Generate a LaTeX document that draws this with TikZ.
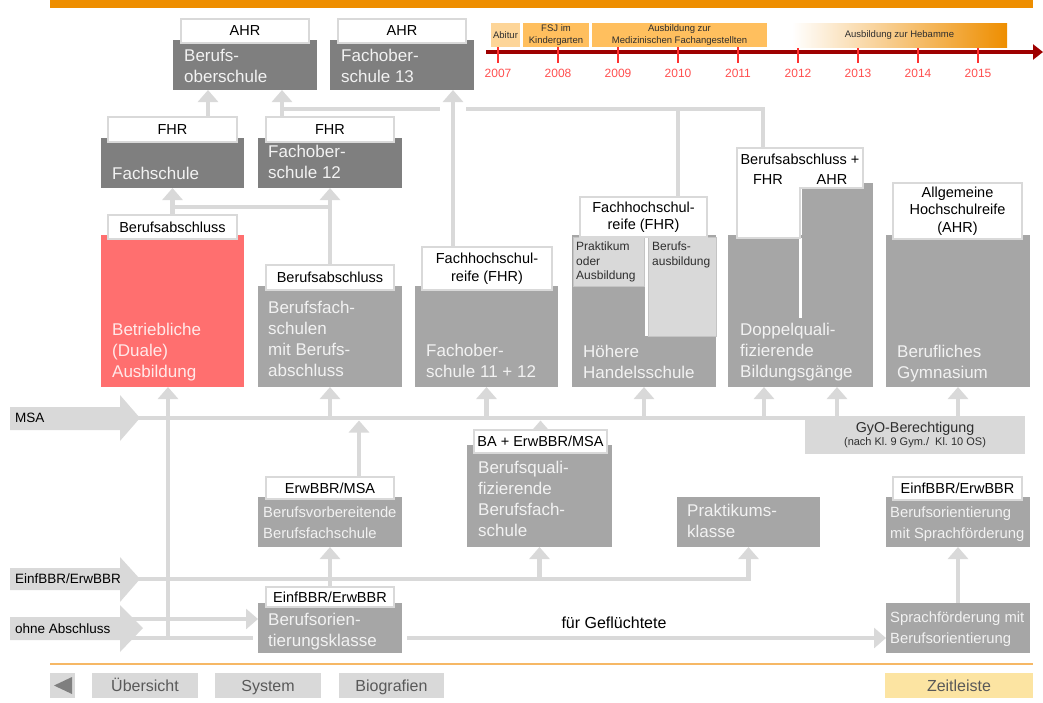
\documentclass[tikz,border=0pt]{standalone}
\usepackage{fontspec}
\setmainfont{Liberation Sans}
\usetikzlibrary{arrows.meta,calc,backgrounds}

\definecolor{arancio}{HTML}{EE8E00}
\definecolor{arancioch}{HTML}{FFBF5E}
\definecolor{aranciopal}{HTML}{FDD598}
\definecolor{lineaor}{HTML}{F6B865}
\definecolor{grigioscuro}{HTML}{7F7F7F}
\definecolor{grigiomedio}{HTML}{A6A6A6}
\definecolor{grigiochiaro}{HTML}{D9D9D9}
\definecolor{grigiobordo}{HTML}{C4C4C4}
\definecolor{testochiaro}{HTML}{F2F2F2}
\definecolor{testoscuro}{HTML}{2E2E2E}
\definecolor{testobottone}{HTML}{595959}
\definecolor{rosso}{HTML}{FF6F6F}
\definecolor{rossoasse}{HTML}{9E0000}
\definecolor{rossotacca}{HTML}{FF3030}
\definecolor{rossoanno}{HTML}{FF4F4F}
\definecolor{giallino}{HTML}{FCE4A2}

\begin{document}
\begin{tikzpicture}[
    x=1pt, y=-1pt,   % coordinate in pixel, y verso il basso
    scatola/.style={anchor=north west, inner sep=0pt, outer sep=0pt},
    dim/.style n args={2}{minimum width=#1pt, minimum height=#2pt},
    scuro/.style={scatola, fill=grigioscuro},
    medio/.style={scatola, fill=grigiomedio},
    chiaro/.style={scatola, fill=grigiochiaro, draw=grigiobordo, line width=0.8pt},
    bordo/.style={fill=white, draw=grigiochiaro, line width=2pt},
    etichetta/.style={scatola, bordo, align=center, text=black, font=\fontsize{14.5}{17.5}\selectfont},
    testo/.style={anchor=north west, inner sep=0pt, align=left, text=testochiaro, font=\fontsize{17}{21}\selectfont},
    testopiccolo/.style={testo, font=\fontsize{14.8}{21}\selectfont},
    linea/.style={draw=grigiochiaro, line width=4.5pt},
    freccia/.style={linea, -{Triangle[width=20pt,length=12pt]}},
    ponte/.style={preaction={draw=white, line width=26pt, -}},
    bottone/.style={scatola, fill=grigiochiaro, text=testobottone, text height=13.5pt, text depth=1.5pt,
                    font=\fontsize{16}{19}\selectfont},
    periodo/.style={scatola, fill=arancioch, text=testoscuro, align=center, font=\fontsize{9.5}{11.5}\selectfont},
    freccione/.style={fill=grigiochiaro},
    testofreccione/.style={anchor=west, inner sep=0pt, text=black, font=\fontsize{13.5}{16}\selectfont}
]
    \useasboundingbox (0,0) rectangle (1043,702);

    % =========================================================================
    % 1. BARRA SUPERIORE E LINEA DEL TEMPO
    % =========================================================================
    \fill[arancio] (50,0) rectangle (1033,8);

    % Asse del tempo
    \draw[rossoasse, line width=3.5pt, -{Triangle[width=15pt,length=10pt]}] (486,52) -- (1043,52);
    \foreach \anno [count=\i from 0] in {2007,...,2015} {
        \draw[rossotacca, line width=2pt] (498+60*\i,47) -- (498+60*\i,63);
        \node[text=rossoanno, font=\fontsize{12}{14}\selectfont] (anno\anno) at (498+60*\i,73) {\anno};
    }

    % Periodi della biografia
    \node[periodo, fill=aranciopal, dim={29}{24}] (abitur) at (491,23) {Abitur};
    \node[periodo, dim={66}{24}] (fsj) at (523,23) {FSJ im\\Kindergarten};
    \node[periodo, dim={175}{24}] (mfa) at (592,23) {Ausbildung zur\\Medizinischen Fachangestellten};
    \node[periodo, left color=white, right color=arancio, dim={215}{24}] (hebamme) at (792,23) {Ausbildung zur Hebamme};

    % =========================================================================
    % 2. SCATOLE DEI PERCORSI
    % =========================================================================

    % Riga 1 (AHR)
    \node[scuro, dim={144}{50}] (bos) at (173,40) {};
    \node[scuro, dim={144}{50}] (fos13) at (330,40) {};

    % Riga 2 (FHR)
    \node[scuro, dim={143}{50}] (fs) at (101,138) {};
    \node[scuro, dim={144}{50}] (fos12) at (258,138) {};

    % Riga 3
    \node[scatola, fill=rosso, dim={143}{152}] (dual) at (101,235) {};
    \node[medio, dim={144}{101}] (bfs) at (258,286) {};
    \node[medio, dim={143}{101}] (fos1112) at (415,286) {};
    \node[medio, dim={144}{152}] (hhs) at (572,235) {};
    \node[chiaro, dim={71}{49}] (hhs-p) at (573,237) {};
    \node[chiaro, dim={68}{99}] (hhs-b) at (648,237) {};
    \draw[white, line width=3pt] ($(hhs-b.north west)+(-2,0)$) -- ($(hhs-b.south west)+(-2,0)$);
    \node[medio, dim={145}{152}] (dq) at (728,235) {};
    \node[medio, dim={71}{135}] (dq-a) at (802,183) {};
    \draw[white, line width=3pt] ($(dq-a.south west)+(-1.5,0)$) -- ++(0,-80);
    \node[medio, dim={144}{152}] (bg) at (886,235) {};

    % Berechtigung per il ginnasio
    \node[scatola, fill=grigiochiaro, dim={220}{38}, align=center, text=testoscuro,
          font=\fontsize{14.3}{13}\selectfont] (gyo) at (805,416)
          {GyO-Berechtigung\\{\fontsize{11}{13}\selectfont(nach Kl.~9 Gym./~ Kl.~10 OS)}};

    % Riga 4
    \node[medio, dim={144}{50}] (bvb) at (258,497) {};
    \node[medio, dim={145}{102}] (bq) at (467,445) {};
    \node[medio, dim={143}{50}] (pk) at (677,497) {};
    \node[medio, dim={144}{50}] (bmsp) at (886,497) {};

    % Riga 5
    \node[medio, dim={144}{50}] (bok) at (258,603) {};
    \node[medio, dim={144}{50}] (spr) at (886,603) {};

    % Etichette dei titoli
    \node[etichetta, dim={128}{24}] (bosl) at (181,19) {AHR};
    \node[etichetta, dim={128}{24}] (fos13l) at (338,19) {AHR};
    \node[etichetta, dim={129}{25}] (fsl) at (108,117) {FHR};
    \node[etichetta, dim={128}{25}] (fos12l) at (266,117) {FHR};
    \node[etichetta, dim={129}{24}] (duall) at (108,215) {Berufsabschluss};
    \node[etichetta, dim={128}{25}] (bfsl) at (266,265) {Berufsabschluss};
    \node[etichetta, dim={130}{43}] (fos1112l) at (422,247) {Fachhochschul-\\reife (FHR)};
    \node[etichetta, dim={127}{40}] (hhsl) at (580,197) {Fachhochschul-\\reife (FHR)};
    \node[etichetta, dim={129}{56}] (bgl) at (893,183) {Allgemeine\\Hochschulreife\\(AHR)};
    \node[etichetta, dim={128}{22}] (bvbl) at (266,477) {ErwBBR/MSA};
    \node[etichetta, dim={133}{23}] (bql) at (474,430) {BA + ErwBBR/MSA};
    \node[etichetta, dim={129}{23}] (bmspl) at (893,477) {EinfBBR/ErwBBR};
    \node[etichetta, dim={128}{20}] (bokl) at (266,587) {EinfBBR/ErwBBR};

    % Etichetta a L dei Bildungsgaenge doppelqualificanti
    \coordinate (dql-nw) at (737,148);
    \draw[bordo] (dql-nw) -- ++(126,0) -- ++(0,40) -- ++(-63,0) -- ++(0,50) -- ++(-63,0) -- cycle;
    \node[anchor=base, font=\fontsize{14.5}{17.5}\selectfont] (dql-t) at (800,164) {Berufsabschluss +};
    \node[anchor=base, font=\fontsize{14.5}{17.5}\selectfont] (dql-fhr) at (768,184) {FHR};
    \node[anchor=base, font=\fontsize{14.5}{17.5}\selectfont] (dql-ahr) at (832,184) {AHR};

    % Testi delle scatole
    \node[testo] (bos-t) at (184,48.5) {Berufs-\\oberschule};
    \node[testo] (fos13-t) at (341,48.5) {Fachober-\\schule 13};
    \node[testo] (fs-t) at (112,167) {Fachschule};
    \node[testo] (fos12-t) at (268,145) {Fachober-\\schule 12};
    \node[testo, text=white!85!rosso] (dual-t) at (112,323) {Betriebliche\\(Duale)\\Ausbildung};
    \node[testo] (bfs-t) at (268,301) {Berufsfach-\\schulen\\mit Berufs-\\abschluss};
    \node[testo] (fos1112-t) at (426,344) {Fachober-\\schule 11 + 12};
    \node[testo] (hhs-t) at (583,345) {Höhere\\Handelsschule};
    \node[testo, text=testoscuro, font=\fontsize{12}{14.5}\selectfont] (hhs-p-t) at (576,242) {Praktikum\\oder\\Ausbildung};
    \node[testo, text=testoscuro, font=\fontsize{12}{14.5}\selectfont] (hhs-b-t) at (652,242) {Berufs-\\ausbildung};
    \node[testo] (dq-t) at (740,323) {Doppelquali-\\fizierende\\Bildungsgänge};
    \node[testo] (bg-t) at (897,345) {Berufliches\\Gymnasium};
    \node[testopiccolo] (bvb-t) at (263,507) {Berufsvorbereitende\\Berufsfachschule};
    \node[testo] (bq-t) at (478,461) {Berufsquali-\\fizierende\\Berufsfach-\\schule};
    \node[testo] (pk-t) at (687,504) {Praktikums-\\klasse};
    \node[testopiccolo] (bmsp-t) at (890,507) {Berufsorientierung\\mit Sprachförderung};
    \node[testo] (bok-t) at (268,613) {Berufsorien-\\tierungsklasse};
    \node[testopiccolo] (spr-t) at (890,612) {Sprachförderung mit\\Berufsorientierung};

    % =========================================================================
    % 3. ENTRATE A SINISTRA (frecce grandi)
    % =========================================================================
    \fill[freccione] (10,407) -- (120,407) -- (120,395) -- (140,418) -- (120,441) -- (120,430) -- (10,430) -- cycle;
    \node[testofreccione] (msa) at (15,418) {MSA};
    \fill[freccione] (10,568) -- (120,568) -- (120,557) -- (140,579) -- (120,602) -- (120,590) -- (10,590) -- cycle;
    \node[testofreccione] (einf) at (15,579) {EinfBBR/ErwBBR};
    \fill[freccione] (10,617) -- (120,617) -- (120,605) -- (143,628) -- (120,652) -- (120,640) -- (10,640) -- cycle;
    \node[testofreccione] (ohne) at (15,629) {ohne Abschluss};

    \coordinate (msa-tip) at (136,418);
    \coordinate (einf-tip) at (136,579);
    \coordinate (ohne-o) at (128,619);
    \coordinate (ohne-u) at (128,638);

    \node[anchor=base, font=\fontsize{16}{19}\selectfont] (fluechtlinge) at (614,628) {für Geflüchtete};

    % Punti di aggancio dei collegamenti
    \coordinate (k-fs) at ($(fs.south)+(0,19)$);
    \coordinate (k-quer) at ($(bos.south west)+(109,19)$);
    \coordinate (k-bos1) at ($(bos.south west)+(35,0)$);
    \coordinate (k-fos13) at ($(fos13.south)+(51,0)$);
    \coordinate (k-hhs) at ($(hhsl.north east)+(-29,0)$);
    \coordinate (k-dq) at ($(dql-nw)+(26,0)$);
    \coordinate (k-dq-l) at ($(dq.south west)+(36,0)$);
    \coordinate (k-dq-r) at ($(dq.south east)+(-36,0)$);
    \coordinate (k-duale) at ($(dual.south)+(-4.5,0)$);
    \coordinate (k-bvb) at ($(bvbl.north)+(29,0)$);

    % =========================================================================
    % 4. COLLEGAMENTI (sotto le scatole)
    % =========================================================================
    \begin{scope}[on background layer]
        % Riga 2 -> Riga 1
        \draw[freccia] (k-bos1 |- fsl.north) -- (k-bos1);
        \draw[linea] (k-quer) -- (k-dq |- k-quer) -- (k-dq);
        \draw[linea] (k-hhs |- k-quer) -- (k-hhs);
        \draw[freccia] (k-quer |- fos12l.north) -- (k-quer |- bos.south);
        \draw[freccia, ponte] (k-fos13 |- fos1112l.north) -- (k-fos13);

        % Riga 3 -> Riga 2
        \draw[linea] (duall.north |- k-fs) -- (bfsl.north |- k-fs);
        \draw[freccia] (duall.north) -- (fs.south);
        \draw[freccia] (bfsl.north) -- (fos12.south);

        % Linea MSA
        \draw[linea] (msa-tip) -- (msa-tip -| gyo.west);
        \foreach \ziel in {bfs,fos1112,hhs}
            \draw[freccia] (\ziel.south |- msa-tip) -- (\ziel.south);
        \draw[freccia] (k-dq-l |- msa-tip) -- (k-dq-l);
        \draw[freccia] (k-dq-r |- gyo.north) -- (k-dq-r);
        \draw[freccia] (bg.south |- gyo.north) -- (bg.south);
        \draw[freccia] (k-bvb) -- ($(k-bvb |- msa-tip)+(0,2.5)$);
        \draw[freccia] (bql.north) -- ($(bql.north |- msa-tip)+(0,2.5)$);

        % Linea EinfBBR/ErwBBR
        \draw[freccia] (einf-tip) -- (pk.south |- einf-tip) -- (pk.south);
        \draw[freccia] (bq.south |- einf-tip) -- (bq.south);
        \draw[freccia] (bokl.north) -- (bvb.south);

        % Linee senza diploma
        \draw[freccia] (ohne-u) -- (ohne-u -| spr.west);
        \fill[white] ($(bok.north west)+(-5,0)$) rectangle ($(bok.south east)+(5,0)$);
        \draw[freccia] (ohne-o) -- (ohne-o -| bok.west);
        \draw[freccia] (k-duale |- ohne-u) -- (k-duale);
        \draw[freccia] (spr.north) -- (bmsp.south);
    \end{scope}

    % =========================================================================
    % 5. NAVIGAZIONE IN BASSO
    % =========================================================================
    \draw[lineaor, line width=2pt] (50,664) -- (1033,664);
    \node[bottone, dim={25}{25}] (indietro) at (50,673) {};
    \fill[grigioscuro] ($(indietro.west)+(4,0)$) -- ++(18,-8.5) -- ++(0,17) -- cycle;
    \node[bottone, dim={106}{25}] (uebersicht) at (92,673) {Übersicht};
    \node[bottone, dim={106}{25}] (system) at (215,673) {System};
    \node[bottone, dim={105}{25}] (biografien) at (339,673) {Biografien};
    \node[bottone, fill=giallino, dim={148}{25}] (zeitleiste) at (885,673) {Zeitleiste};

\end{tikzpicture}
\end{document}
